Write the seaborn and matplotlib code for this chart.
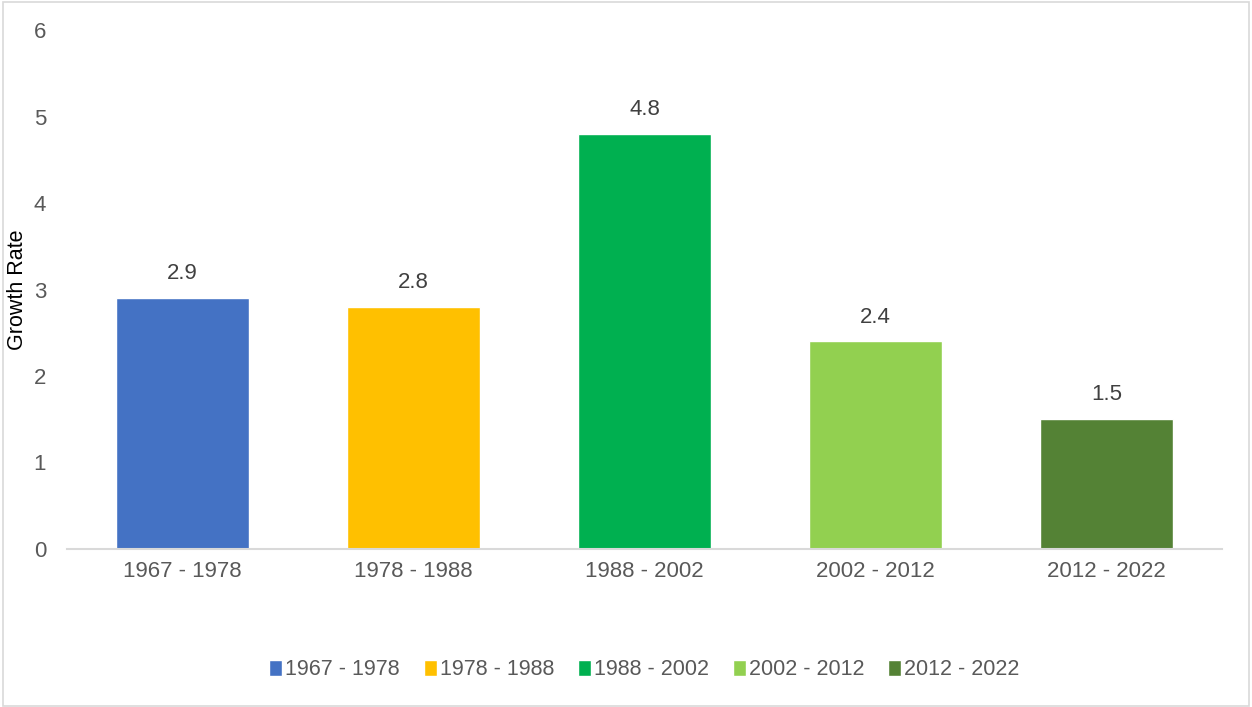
import matplotlib
matplotlib.use("Agg")
import matplotlib.pyplot as plt
from matplotlib.patches import Rectangle
import seaborn as sns
import pandas as pd

# values
periods = ["1967 - 1978", "1978 - 1988", "1988 - 2002", "2002 - 2012", "2012 - 2022"]
growth_rates = [2.9, 2.8, 4.8, 2.4, 1.5]
bar_colors = ["#4472C4", "#FFC000", "#00B050", "#92D050", "#548235"]
y_ticks = [0, 1, 2, 3, 4, 5, 6]

sns.set_theme(style="white")
plt.rcParams["font.family"] = ["Liberation Sans", "DejaVu Sans"]

df = pd.DataFrame({"Period": periods, "Growth Rate": growth_rates})

fig = plt.figure(figsize=(12.52, 7.07), dpi=100)
ax = fig.add_axes([0.0535, 0.2235, 0.9225, 0.734])

sns.barplot(data=df, x="Period", y="Growth Rate", hue="Period",
            palette=bar_colors, width=0.575, saturation=1, ax=ax, legend=True)

for container in ax.containers:
    ax.bar_label(container, fmt="%.1f", padding=10, fontsize=16, color="#404040")

ax.set_ylim(0, 6)
ax.set_yticks(y_ticks)
ax.set_xlim(-0.5, len(periods) - 0.5)
ax.set_xlabel("")
ax.set_ylabel("Growth Rate", fontsize=15.5, color="black")
# right edge of the rotated label sits near x=28px
ax.yaxis.set_label_coords(-0.0335, 0.5)
ax.tick_params(axis="both", labelsize=16, colors="#595959", length=0)
ax.tick_params(axis="x", pad=9)
ax.tick_params(axis="y", pad=15)

sns.despine(ax=ax, left=True)
ax.spines["bottom"].set_color("#D9D9D9")
ax.spines["bottom"].set_linewidth(1.5)

sns.move_legend(ax, "center", bbox_to_anchor=(0.5, -0.233), ncol=5,
                frameon=False, title=None, fontsize=15.5,
                handlelength=0.6, handleheight=0.8, handletextpad=0.15,
                columnspacing=1.1)
for t in ax.get_legend().get_texts():
    t.set_color("#595959")

# light grey frame around the whole chart area
fig.patches.append(Rectangle((0.002, 0.002), 0.996, 0.995, transform=fig.transFigure,
                             fill=False, edgecolor="#D9D9D9", linewidth=1.2))

fig.savefig("out.png", dpi=100)
